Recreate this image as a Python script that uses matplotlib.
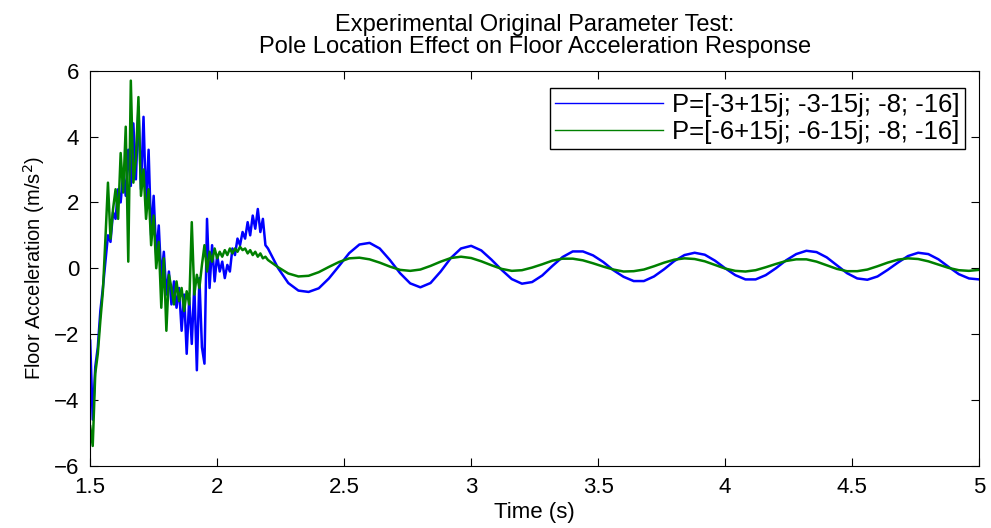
import matplotlib
matplotlib.use('Agg')
import matplotlib.pyplot as plt

plt.rcParams['font.family'] = ['Liberation Sans', 'DejaVu Sans']

# sample times (s): dense over the noisy transient, coarser over the steady oscillation
time = [
    1.50, 1.51, 1.52, 1.53, 1.54, 1.55, 1.56, 1.57, 1.58, 1.59,
    1.60, 1.61, 1.62, 1.63, 1.64, 1.65, 1.66, 1.67, 1.68, 1.69,
    1.70, 1.71, 1.72, 1.73, 1.74, 1.75, 1.76, 1.77, 1.78, 1.79,
    1.80, 1.81, 1.82, 1.83, 1.84, 1.85, 1.86, 1.87, 1.88, 1.89,
    1.90, 1.91, 1.92, 1.93, 1.94, 1.95, 1.96, 1.97, 1.98, 1.99,
    2.00, 2.01, 2.02, 2.03, 2.04, 2.05, 2.06, 2.07, 2.08, 2.09,
    2.10, 2.11, 2.12, 2.13, 2.14, 2.15, 2.16, 2.17, 2.18, 2.19,
    2.20, 2.24, 2.28, 2.32, 2.36, 2.40, 2.44, 2.48, 2.52, 2.56,
    2.60, 2.64, 2.68, 2.72, 2.76, 2.80, 2.84, 2.88, 2.92, 2.96,
    3.00, 3.04, 3.08, 3.12, 3.16, 3.20, 3.24, 3.28, 3.32, 3.36,
    3.40, 3.44, 3.48, 3.52, 3.56, 3.60, 3.64, 3.68, 3.72, 3.76,
    3.80, 3.84, 3.88, 3.92, 3.96, 4.00, 4.04, 4.08, 4.12, 4.16,
    4.20, 4.24, 4.28, 4.32, 4.36, 4.40, 4.44, 4.48, 4.52, 4.56,
    4.60, 4.64, 4.68, 4.72, 4.76, 4.80, 4.84, 4.88, 4.92, 4.96,
    5.00,
]

# P=[-3+15j; -3-15j; -8; -16]
accel_p3 = [
    -2.2, -4.6, -3.0, -2.4, -1.3, -0.6, 0.2, 1.0, 0.8, 1.7,
    1.5, 2.4, 2.0, 2.9, 2.2, 3.6, 2.5, 4.4, 2.7, 4.9,
    2.4, 4.6, 1.9, 3.6, 1.0, 2.2, 0.4, 1.3, -0.3, 0.5,
    -0.8, -0.1, -1.1, -0.4, -1.2, -0.6, -1.9, -0.8, -2.6, -0.9,
    -2.3, -0.5, -3.1, -0.3, -2.4, -2.9, 1.5, -0.6, 0.7, -0.4,
    0.4, -0.1, 0.2, -0.3, 0.1, -0.1, 0.6, 0.4, 0.9, 0.7,
    1.1, 0.9, 1.4, 1.0, 1.6, 1.2, 1.8, 1.1, 1.5, 0.7,
    0.6, 0.0, -0.45, -0.68, -0.72, -0.61, -0.31, 0.07, 0.46, 0.72,
    0.77, 0.60, 0.25, -0.15, -0.46, -0.58, -0.45, -0.10, 0.31, 0.60,
    0.68, 0.54, 0.26, -0.05, -0.33, -0.47, -0.42, -0.22, 0.07, 0.34,
    0.51, 0.51, 0.39, 0.19, -0.06, -0.26, -0.39, -0.39, -0.25, -0.03,
    0.22, 0.40, 0.47, 0.41, 0.23, 0.00, -0.21, -0.34, -0.34, -0.21,
    0.00, 0.24, 0.43, 0.53, 0.49, 0.33, 0.09, -0.15, -0.31, -0.35,
    -0.25, -0.05, 0.17, 0.37, 0.47, 0.43, 0.27, 0.04, -0.18, -0.31,
    -0.34,
]

# P=[-6+15j; -6-15j; -8; -16]
accel_p6 = [
    -4.8, -5.4, -3.2, -2.6, -1.6, -0.7, 0.9, 2.6, 0.9, 1.8,
    2.4, 1.5, 3.5, 2.3, 4.3, 0.2, 5.7, 2.6, 3.3, 5.2,
    2.2, 3.0, 1.5, 2.4, 0.7, 1.6, 0.0, 0.8, -1.2, 0.3,
    -1.9, -0.2, -0.6, -1.1, -0.4, -1.0, -0.6, -1.3, -0.7, -1.1,
    1.4, -0.8, -0.2, -0.6, 0.1, 0.7, -0.1, 0.5, 0.2, 0.6,
    0.3, 0.5, 0.35, 0.55, 0.4, 0.6, 0.45, 0.6, 0.5, 0.65,
    0.55, 0.6, 0.45, 0.55, 0.4, 0.5, 0.35, 0.45, 0.3, 0.35,
    0.25, 0.03, -0.16, -0.25, -0.23, -0.12, 0.04, 0.19, 0.30, 0.32,
    0.27, 0.17, 0.05, -0.05, -0.08, -0.04, 0.07, 0.20, 0.31, 0.35,
    0.31, 0.21, 0.09, -0.02, -0.08, -0.06, 0.02, 0.12, 0.23, 0.29,
    0.29, 0.24, 0.15, 0.05, -0.04, -0.10, -0.09, -0.04, 0.06, 0.17,
    0.26, 0.30, 0.28, 0.21, 0.10, -0.01, -0.08, -0.10, -0.06, 0.03,
    0.13, 0.22, 0.27, 0.27, 0.20, 0.09, -0.02, -0.09, -0.09, -0.04,
    0.06, 0.17, 0.26, 0.30, 0.28, 0.21, 0.11, 0.01, -0.06, -0.08,
    -0.05,
]

labels = ['P=[-3+15j; -3-15j; -8; -16]', 'P=[-6+15j; -6-15j; -8; -16]']

fig = plt.figure(figsize=(9.91, 5.28), dpi=100)
ax = fig.add_axes([0.091, 0.118, 0.897, 0.748])

ax.plot(time, accel_p3, color='#0000ff', linewidth=1.8, label=labels[0])
ax.plot(time, accel_p6, color='#008000', linewidth=1.8, label=labels[1])

ax.set_xlim(1.5, 5)
ax.set_ylim(-6, 6)
ax.set_xticks([1.5, 2, 2.5, 3, 3.5, 4, 4.5, 5])
ax.set_xticklabels(['1.5', '2', '2.5', '3', '3.5', '4', '4.5', '5'])
ax.set_yticks([-6, -4, -2, 0, 2, 4, 6])
ax.tick_params(direction='in', length=6, labelsize=16, top=True, right=True, pad=8)

ax.set_xlabel('Time (s)', fontsize=16, labelpad=3)
ax.set_ylabel('Floor Acceleration (m/s$^2$)', fontsize=14.5, labelpad=5)
ax.set_title('Experimental Original Parameter Test:\nPole Location Effect on Floor Acceleration Response',
             fontsize=17, pad=13, linespacing=1.0)

leg = ax.legend(loc='upper right', fontsize=18.5, handlelength=4.2, handletextpad=0.35,
                borderpad=0.2, labelspacing=0.1, fancybox=False, framealpha=1,
                bbox_to_anchor=(0.9985, 0.988))
leg.get_frame().set_edgecolor('black')
leg.get_frame().set_linewidth(1.0)
for line in leg.get_lines():
    line.set_linewidth(1.0)

fig.savefig('out.png', dpi=100)
